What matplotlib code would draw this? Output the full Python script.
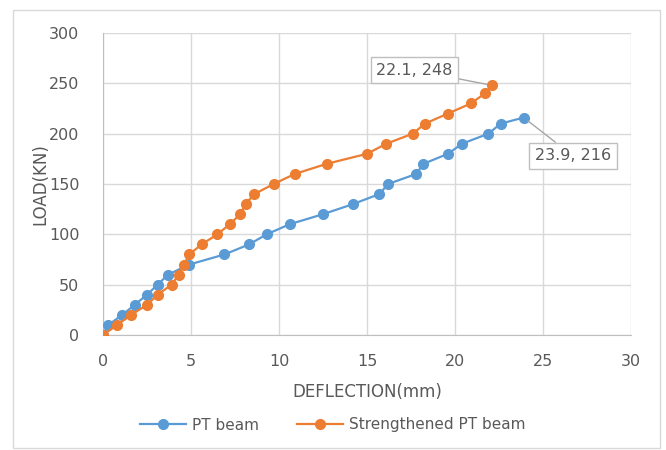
import matplotlib
matplotlib.use('Agg')
import matplotlib.pyplot as plt
from matplotlib.patches import Rectangle

# data
pt_x = [0, 0.3, 1.1, 1.8, 2.5, 3.1, 3.7, 4.9, 6.9, 8.3, 9.3, 10.6, 12.5,
        14.2, 15.7, 16.2, 17.8, 18.2, 19.6, 20.4, 21.9, 22.6, 23.9]
pt_y = [0, 10, 20, 30, 40, 50, 60, 70, 80, 90, 100, 110, 120,
        130, 140, 150, 160, 170, 180, 190, 200, 210, 216]

st_x = [0, 0.8, 1.6, 2.5, 3.1, 3.9, 4.3, 4.6, 4.9, 5.6, 6.5, 7.2, 7.8,
        8.1, 8.6, 9.7, 10.9, 12.7, 15.0, 16.1, 17.6, 18.3, 19.6, 20.9,
        21.7, 22.1]
st_y = [0, 10, 20, 30, 40, 50, 60, 70, 80, 90, 100, 110, 120,
        130, 140, 150, 160, 170, 180, 190, 200, 210, 220, 230,
        240, 248]

xticks = [0, 5, 10, 15, 20, 25, 30]
yticks = [0, 50, 100, 150, 200, 250, 300]

blue = '#5B9BD5'
orange = '#ED7D31'
txt = '#595959'
grid = '#D9D9D9'

plt.rcParams['font.family'] = ['DejaVu Sans']

fig = plt.figure(figsize=(6.66, 4.5), dpi=100)
fig.patches.append(Rectangle((13 / 666, 2 / 450), 647 / 666, 438 / 450,
                             transform=fig.transFigure, fill=False,
                             edgecolor='#D9D9D9', linewidth=1))
ax = fig.add_axes([103 / 666, 115 / 450, 528 / 666, 302 / 450])

ax.plot(pt_x, pt_y, '-o', color=blue, lw=1.6, ms=7, label='PT beam',
        zorder=3)
ax.plot(st_x, st_y, '-o', color=orange, lw=1.6, ms=7,
        label='Strengthened PT beam', zorder=4)

ax.set_xlim(0, 30)
ax.set_ylim(0, 300)
ax.set_xticks(xticks)
ax.set_yticks(yticks)
ax.grid(True, color=grid, lw=1)
ax.set_axisbelow(True)
for s in ['top', 'right']:
    ax.spines[s].set_visible(False)
for s in ['left', 'bottom']:
    ax.spines[s].set_color('#BFBFBF')
ax.tick_params(length=0, labelsize=11.5, labelcolor=txt)
ax.tick_params(axis='x', pad=14)
ax.tick_params(axis='y', pad=17)
ax.set_xlabel('DEFLECTION(mm)', fontsize=12, color=txt, labelpad=10)
ax.set_ylabel('LOAD(KN)', fontsize=12, color=txt, labelpad=0)

box = dict(boxstyle='square,pad=0.35', fc='white', ec='#BFBFBF', lw=1)
line = dict(arrowstyle='-', color='#A6A6A6', lw=1, shrinkA=0, shrinkB=4)
ax.annotate(f'{st_x[-1]}, {st_y[-1]}', xy=(st_x[-1], st_y[-1]),
            xytext=(17.7, 263), ha='center', va='center', fontsize=11.5,
            color=txt, bbox=box, arrowprops=line, zorder=6)
ax.annotate(f'{pt_x[-1]}, {pt_y[-1]}', xy=(pt_x[-1], pt_y[-1]),
            xytext=(26.7, 178), ha='center', va='center', fontsize=11.5,
            color=txt, bbox=box, arrowprops=line, zorder=6)

fig.legend(loc='center', bbox_to_anchor=(0.5, 25 / 450), ncol=2,
           frameon=False, fontsize=11, labelcolor=txt, handlelength=3,
           columnspacing=2.5, handletextpad=0.4)

fig.savefig('out.png', dpi=100, facecolor='white')
